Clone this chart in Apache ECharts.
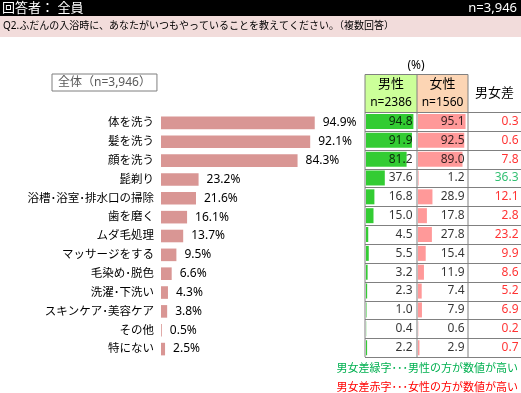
<!DOCTYPE html>
<html><head><meta charset="utf-8">
<script src="https://cdn.jsdelivr.net/npm/echarts@6/dist/echarts.min.js"></script>
<style>html,body{margin:0;padding:0;background:#fff}#c{width:521px;height:393px}</style>
</head><body><div id="c"></div>
<script>
const categories = ['体を洗う','髪を洗う','顔を洗う','髭剃り','浴槽･浴室･排水口の掃除','歯を磨く','ムダ毛処理','マッサージをする','毛染め･脱色','洗濯･下洗い','スキンケア･美容ケア','その他','特にない'];
const totalValues = [94.9,92.1,84.3,23.2,21.6,16.1,13.7,9.5,6.6,4.3,3.8,0.5,2.5];
const maleValues = [94.8,91.9,81.2,37.6,16.8,15.0,4.5,5.5,3.2,2.3,1.0,0.4,2.2];
const femaleValues = [95.1,92.5,89.0,1.2,28.9,17.8,27.8,15.4,11.9,7.4,7.9,0.6,2.9];
const diffValues = [0.3,0.6,7.8,36.3,12.1,2.8,23.2,9.9,8.6,5.2,6.9,0.2,0.7];
const totalName = '全体（n=3,946）';

const FJ = '"Noto Sans", "Noto Sans CJK JP", sans-serif';
const chart = echarts.init(document.getElementById('c'), null, {renderer:'canvas'});

const rowTop = 112, rowH = 18.85, nRows = categories.length;
const tableBottom = rowTop + rowH * nRows;
const xL = 365, xM = 417, xF = 468, xR = 521;
const lineColor = '#808080';

const graphics = [
  {type:'rect', shape:{x:0,y:0,width:521,height:16}, style:{fill:'#000'}},
  {type:'rect', shape:{x:0,y:16,width:521,height:21}, style:{fill:'#f2dcdb'}},
  {type:'text', x:2, y:8, style:{text:'回答者： 全員', fill:'#fff', font:'13px '+FJ, verticalAlign:'middle'}},
  {type:'text', x:517, y:8, style:{text:'n=3,946', fill:'#fff', font:'13px '+FJ, align:'right', verticalAlign:'middle'}},
  {type:'text', x:3, y:26.5, style:{text:'Q2.ふだんの入浴時に、あなたがいつもやっていることを教えてください。（複数回答）', fill:'#000', font:'10px '+FJ, verticalAlign:'middle'}},
  {type:'text', x:416, y:66, style:{text:'(%)', fill:'#000', font:'12px '+FJ, align:'center', verticalAlign:'middle'}},
  {type:'rect', shape:{x:xL,y:74.5,width:xM-xL,height:rowTop-74.5}, style:{fill:'#ccff99'}},
  {type:'rect', shape:{x:xM,y:74.5,width:xF-xM,height:rowTop-74.5}, style:{fill:'#fcd5b4'}},
  {type:'text', x:(xL+xM)/2, y:84, style:{text:'男性', fill:'#000', font:'13px '+FJ, align:'center', verticalAlign:'middle'}},
  {type:'text', x:(xL+xM)/2, y:102.5, style:{text:'n=2386', fill:'#000', font:'12px '+FJ, align:'center', verticalAlign:'middle'}},
  {type:'text', x:(xM+xF)/2, y:84, style:{text:'女性', fill:'#000', font:'13px '+FJ, align:'center', verticalAlign:'middle'}},
  {type:'text', x:(xM+xF)/2, y:102.5, style:{text:'n=1560', fill:'#000', font:'12px '+FJ, align:'center', verticalAlign:'middle'}},
  {type:'text', x:(xF+xR)/2, y:93, style:{text:'男女差', fill:'#000', font:'13px '+FJ, align:'center', verticalAlign:'middle'}},
  {type:'text', x:518, y:369, style:{text:'男女差緑字･･･男性の方が数値が高い', fill:'#00b050', font:'11px '+FJ, align:'right', verticalAlign:'middle'}},
  {type:'text', x:518, y:388, style:{text:'男女差赤字･･･女性の方が数値が高い', fill:'#ff0000', font:'11px '+FJ, align:'right', verticalAlign:'middle'}}
];
const ls = {stroke:lineColor, lineWidth:1};
graphics.push({type:'line', shape:{x1:xL,y1:74.5,x2:xF,y2:74.5}, style:ls, z:10});
graphics.push({type:'line', shape:{x1:xL,y1:74.5,x2:xL,y2:tableBottom}, style:ls, z:10});
graphics.push({type:'line', shape:{x1:xM,y1:74.5,x2:xM,y2:tableBottom}, style:ls, z:10});
graphics.push({type:'line', shape:{x1:xF,y1:74.5,x2:xF,y2:tableBottom}, style:ls, z:10});
for (let i = 0; i <= nRows; i++) {
  const y = Math.round(rowTop + rowH * i) + 0.5;
  graphics.push({type:'line', shape:{x1:xL,y1:y,x2:xR,y2:y}, style:ls, z:10});
}

function hiddenX(idx){ return {gridIndex:idx, type:'value', min:0, max:100, show:false}; }
function hiddenY(idx, show){
  return {gridIndex:idx, type:'category', data:categories, inverse:true,
    axisLine:{show:false}, axisTick:{show:false}, splitLine:{show:false},
    axisLabel:{show:!!show, margin:7, color:'#000', fontSize:11.5, fontFamily:FJ}};
}
const labelPoints = arr => arr.map((v,i)=>[100, i, v]);

const option = {
  animation:false,
  backgroundColor:'#fff',
  legend:{data:[totalName], left:52, top:74, icon:'none', itemWidth:0, itemGap:0,
    borderColor:'#7f7f7f', borderWidth:1, padding:[2,6,2,1],
    textStyle:{color:'#595959', fontSize:12, fontFamily:FJ}, selectedMode:false},
  grid:[
    {left:161, top:113.5, width:162, height:245},
    {left:xM-51, top:rowTop, width:50, height:rowH*nRows},
    {left:xF-50, top:rowTop, width:50, height:rowH*nRows},
    {left:xF+1, top:rowTop, width:xR-xF-1, height:rowH*nRows}
  ],
  xAxis:[hiddenX(0), hiddenX(1), hiddenX(2), hiddenX(3)],
  yAxis:[hiddenY(0,true), hiddenY(1), hiddenY(2), hiddenY(3)],
  series:[
    {name:totalName, type:'bar', xAxisIndex:0, yAxisIndex:0, data:totalValues, barWidth:12.6,
      itemStyle:{color:'#d99694'},
      label:{show:true, position:'right', distance:8, color:'#000', fontSize:12, fontFamily:FJ,
        formatter:p=>p.value.toFixed(1)+'%'}},
    {name:'男性', type:'bar', xAxisIndex:1, yAxisIndex:1, data:maleValues, barWidth:15, itemStyle:{color:'#33cc33'}},
    {name:'女性', type:'bar', xAxisIndex:2, yAxisIndex:2, data:femaleValues, barWidth:15, itemStyle:{color:'#ff9999'}},
    {name:'男性値', type:'scatter', xAxisIndex:1, yAxisIndex:1, data:labelPoints(maleValues), symbolSize:1,
      itemStyle:{color:'rgba(0,0,0,0)'}, z:5,
      label:{show:true, position:'left', distance:3, color:'#000', fontSize:12, fontFamily:FJ, formatter:p=>p.value[2].toFixed(1)}},
    {name:'女性値', type:'scatter', xAxisIndex:2, yAxisIndex:2, data:labelPoints(femaleValues), symbolSize:1,
      itemStyle:{color:'rgba(0,0,0,0)'}, z:5,
      label:{show:true, position:'left', distance:3, color:'#000', fontSize:12, fontFamily:FJ, formatter:p=>p.value[2].toFixed(1)}},
    {name:'男女差', type:'scatter', xAxisIndex:3, yAxisIndex:3,
      data:diffValues.map((v,i)=>({value:[100,i,v], label:{color: maleValues[i] > femaleValues[i] ? '#00b050' : '#ff0000'}})),
      symbolSize:1, itemStyle:{color:'rgba(0,0,0,0)'}, z:5,
      label:{show:true, position:'left', distance:2, fontSize:12, fontFamily:FJ,
        formatter:p=>p.value[2].toFixed(1)}}
  ],
  graphic:graphics
};
chart.setOption(option);
</script></body></html>
